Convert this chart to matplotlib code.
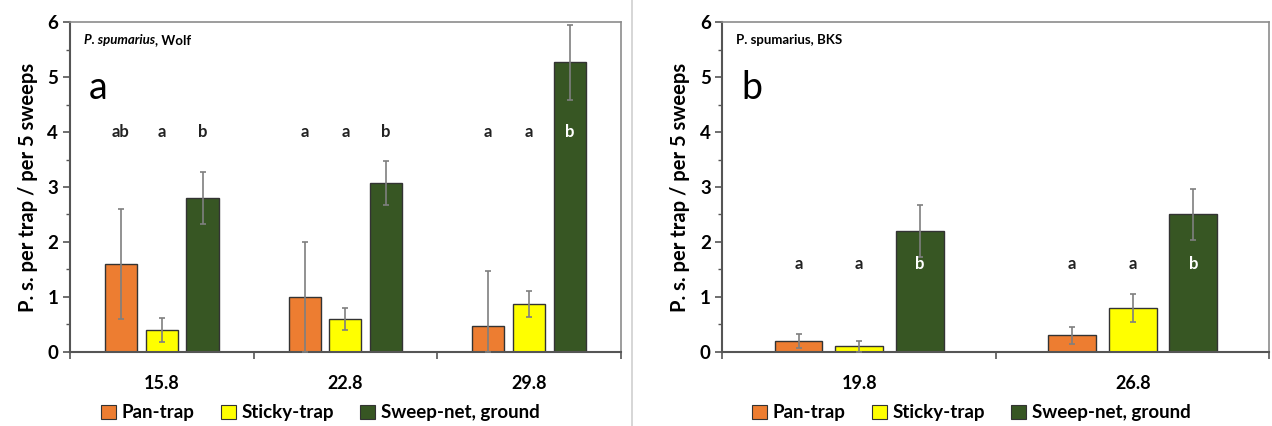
import numpy as np
import matplotlib
matplotlib.use("Agg")
import matplotlib.pyplot as plt
from matplotlib.patches import Patch
from matplotlib.lines import Line2D

plt.rcParams['font.family'] = ['Lato', 'DejaVu Sans']

series = ["Pan-trap", "Sticky-trap", "Sweep-net, ground"]
colors = ["#ED7D31", "#FFFF00", "#375623"]

# panel a (Wolf)
dates_a = ["15.8", "22.8", "29.8"]
mean_a = {"Pan-trap": [1.6, 1.0, 0.47],
          "Sticky-trap": [0.4, 0.6, 0.87],
          "Sweep-net, ground": [2.8, 3.07, 5.27]}
err_a = {"Pan-trap": [1.0, 1.0, 1.0],
         "Sticky-trap": [0.22, 0.2, 0.24],
         "Sweep-net, ground": [0.47, 0.4, 0.68]}
letters_a = [["ab", "a", "b"], ["a", "a", "b"], ["a", "a", "b"]]
letter_y_a = 4.0

# panel b (BKS)
dates_b = ["19.8", "26.8"]
mean_b = {"Pan-trap": [0.2, 0.3],
          "Sticky-trap": [0.1, 0.8],
          "Sweep-net, ground": [2.2, 2.5]}
err_b = {"Pan-trap": [0.13, 0.15],
         "Sticky-trap": [0.1, 0.25],
         "Sweep-net, ground": [0.47, 0.47]}
letters_b = [["a", "a", "b"], ["a", "a", "b"]]
letter_y_b = 1.6


def panel(ax, dates, means, errs, letters, letter_y, tag, title_parts):
    n = len(dates)
    x = np.arange(n) + 0.5
    w = 0.175
    offs = [-0.222, 0.0, 0.222]
    for i, s in enumerate(series):
        m = np.array(means[s])
        e = np.array(errs[s])
        lo = np.minimum(e, m)
        ax.bar(x + offs[i], m, width=w, color=colors[i], edgecolor="#333333",
               linewidth=1.0, zorder=2)
        ax.errorbar(x + offs[i], m, yerr=[lo, e], fmt="none", ecolor="#7f7f7f",
                    elinewidth=1.2, capsize=2.5, capthick=1.2, zorder=3)
    for j in range(n):
        for i in range(3):
            col = "white" if (i == 2 and means[series[2]][j] > letter_y + 0.2) else "#222222"
            ax.text(x[j] + offs[i], letter_y, letters[j][i], ha="center", va="center",
                    fontsize=12, fontweight="bold", color=col, zorder=4)
    ax.set_xlim(0, n)
    ax.set_ylim(0, 6)
    ax.set_xticks(np.arange(n + 1))
    ax.set_xticklabels([])
    ax.set_xticks(x, minor=True)
    ax.set_xticklabels(dates, minor=True, fontsize=13, fontweight="bold")
    ax.tick_params(axis="x", which="minor", length=0, pad=17)
    ax.tick_params(axis="x", which="major", length=5, width=1.2, color="#555555", direction="out")
    ax.set_yticks(np.arange(0, 7, 1))
    ax.set_yticks(np.arange(0, 6.01, 0.5), minor=True)
    ax.tick_params(axis="y", which="major", length=5, width=1.2, color="#555555",
                   labelsize=13.5)
    ax.tick_params(axis="y", which="minor", length=3, width=1.0, color="#555555")
    for lab in ax.get_yticklabels():
        lab.set_fontweight("bold")
    ax.set_ylabel("P. s. per trap / per 5 sweeps", fontsize=14.5, fontweight="bold", labelpad=7)
    for side in ["left", "bottom"]:
        ax.spines[side].set_color("#555555")
        ax.spines[side].set_linewidth(1.5)
    for side in ["top", "right"]:
        ax.spines[side].set_color("#8c8c8c")
        ax.spines[side].set_linewidth(1.2)
    ax.text(0.025, 0.945, title_parts[0], transform=ax.transAxes, fontsize=9.5,
            fontweight="bold", style=title_parts[1], ha="left", va="center")
    if title_parts[2]:
        ax.annotate(title_parts[2], xy=(1, 0.5), xycoords=ax.texts[-1],
                    fontsize=9.5, fontweight="bold", ha="left", va="center")
    ax.text(0.035, 0.80, tag, transform=ax.transAxes, fontsize=27, ha="left", va="center")
    handles = [Patch(facecolor=c, edgecolor="#333333", linewidth=0.8) for c in colors]
    ax.legend(handles, series, loc="center", bbox_to_anchor=(0.455, -0.185), ncol=3,
              frameon=False, prop={"weight": "bold", "size": 13.5}, handlelength=0.8,
              handleheight=0.8, handletextpad=0.3, columnspacing=1.4,
              borderaxespad=0, borderpad=0.1)


fig = plt.figure(figsize=(12.72, 4.26), dpi=100)
ax1 = fig.add_axes([0.055, 0.174, 0.433, 0.774])
ax2 = fig.add_axes([0.568, 0.174, 0.430, 0.774])

panel(ax1, dates_a, mean_a, err_a, letters_a, letter_y_a, "a", ("P. spumarius", "italic", ", Wolf"))
panel(ax2, dates_b, mean_b, err_b, letters_b, letter_y_b, "b", ("P. spumarius, BKS", "normal", ""))

fig.add_artist(Line2D([0.497, 0.497], [0, 1], transform=fig.transFigure, color="#d0d0d0", lw=1.2))

fig.savefig("out.png", dpi=100)
